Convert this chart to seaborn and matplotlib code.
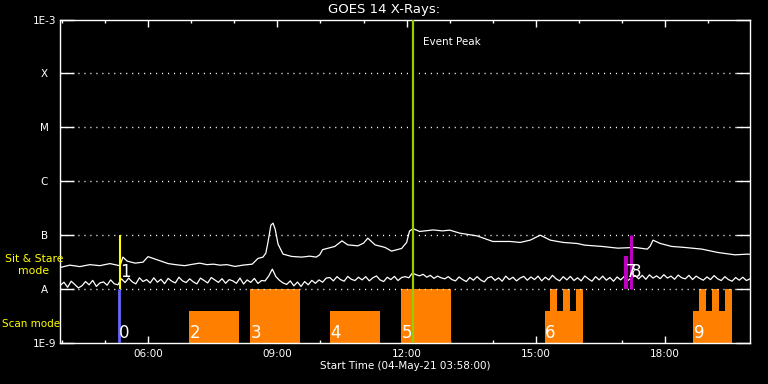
import numpy as np
import pandas as pd
import matplotlib
matplotlib.use("Agg")
import matplotlib.pyplot as plt
import matplotlib.dates as mdates
from matplotlib.ticker import NullLocator, FixedLocator, FixedFormatter
import seaborn as sns

DAY = "2021-05-04"
T_START = "03:58"
T_END = "19:58"
UNIT = 1e-8  # W/m^2

# Long channel (upper curve)
long_times = ["03:58", "04:11", "04:25", "04:39", "04:53", "05:07", "05:17", "05:21", "05:25", "05:31",
              "05:42", "05:53", "06:00", "06:08", "06:17", "06:28", "06:40", "06:51", "07:03", "07:12",
              "07:22", "07:31", "07:40", "07:50", "08:01", "08:12", "08:25", "08:33", "08:40", "08:44",
              "08:47", "08:51", "08:54", "08:57", "09:01", "09:08", "09:20", "09:34", "09:45", "09:54",
              "09:59", "10:03", "10:20", "10:30", "10:38", "10:52", "11:00", "11:06", "11:16", "11:30",
              "11:39", "11:53", "12:00", "12:04", "12:09", "12:18", "12:37", "12:50", "13:00", "13:14",
              "13:38", "14:00", "14:24", "14:38", "14:52", "15:06", "15:20", "15:38", "15:57", "16:08",
              "16:32", "16:54", "17:18", "17:35", "17:39", "17:43", "17:53", "18:09", "18:27", "18:51",
              "19:13", "19:37", "19:55", "19:58"]
long_flux = [2.52, 2.78, 2.61, 2.84, 2.72, 2.97, 2.78, 2.70, 3.92, 3.30,
             3.03, 3.16, 4.00, 3.67, 3.34, 2.97, 2.82, 2.72, 2.90, 3.03,
             2.84, 2.90, 2.78, 2.84, 2.63, 2.78, 2.90, 3.70, 3.92, 4.64,
             7.42, 15.3, 16.7, 12.9, 6.81, 4.45, 4.03, 3.92, 4.08, 3.92,
             4.32, 5.39, 6.18, 7.84, 6.61, 6.34, 7.11, 8.80, 6.61, 5.92,
             5.06, 5.67, 7.33, 11.9, 13.2, 11.7, 12.5, 12.0, 12.4, 10.9,
             9.70, 7.64, 7.64, 7.33, 8.08, 10.0, 8.08, 7.33, 7.02, 6.53,
             6.18, 5.74, 5.92, 5.51, 6.25, 8.08, 7.02, 6.18, 5.92, 5.51,
             4.78, 4.32, 4.45, 4.40]

# Short channel (lower curve), 5-minute samples from 03:58
short_flux = [1.18, 1.34, 1.08, 1.40, 1.22, 1.05, 1.15, 1.38, 1.20, 1.45, 1.12, 1.30,
              1.36, 1.18, 1.48, 1.25, 1.20, 1.55, 1.32, 1.60, 1.36, 1.25, 1.62, 1.38,
              1.50, 1.30, 1.62, 1.34, 1.52, 1.26, 1.58, 1.40, 1.30, 1.66, 1.42, 1.32,
              1.55, 1.36, 1.25, 1.60, 1.44, 1.30, 1.64, 1.48, 1.33, 1.56, 1.28, 1.50,
              1.42, 1.28, 1.60, 1.24, 1.48, 1.33, 1.58, 1.27, 1.44, 1.42, 1.75, 2.35,
              1.70, 1.45, 1.30, 1.22, 1.42, 1.15, 1.35, 1.12, 1.38, 1.20, 1.45, 1.28,
              1.48, 1.34, 1.60, 1.64, 1.42, 1.70, 1.50, 1.40, 1.72, 1.52, 1.44, 1.66,
              1.48, 1.70, 1.42, 1.62, 1.75, 1.48, 1.38, 1.66, 1.50, 1.72, 1.44, 1.64,
              1.70, 1.62, 1.98, 1.85, 1.76, 1.88, 1.66, 1.80, 1.58, 1.74, 1.62, 1.55,
              1.70, 1.50, 1.42, 1.68, 1.50, 1.38, 1.64, 1.46, 1.70, 1.48, 1.36, 1.62,
              1.70, 1.45, 1.62, 1.40, 1.74, 1.50, 1.66, 1.42, 1.60, 1.72, 1.46, 1.68,
              1.50, 1.74, 1.42, 1.66, 1.48, 1.80, 1.55, 1.42, 1.70, 1.48, 1.72, 1.44,
              1.62, 1.42, 1.75, 1.55, 1.40, 1.70, 1.48, 1.74, 1.46, 1.64, 1.40, 1.68,
              1.48, 1.72, 1.44, 1.62, 1.78, 1.55, 1.80, 1.52, 1.84, 1.60, 1.76, 1.56,
              1.85, 1.60, 1.74, 1.52, 1.82, 1.62, 1.55, 1.80, 1.50, 1.74, 1.58, 1.46,
              1.68, 1.50, 1.78, 1.55, 1.44, 1.70, 1.50, 1.40, 1.64, 1.46, 1.66, 1.44,
              1.55]

# Scan-mode blocks
scan_labels = ["2", "3", "4", "5", "6", "9"]
scan_start = ["06:57", "08:22", "10:13", "11:52", "15:12", "18:39"]
scan_end = ["08:07", "09:32", "11:23", "13:02", "16:06", "19:33"]
scan_top = [4.0e-9, 1.0e-8, 4.0e-9, 1.0e-8, 4.0e-9, 4.0e-9]
tooth_start = ["15:20", "15:38", "15:56", "18:47", "19:05", "19:23"]
tooth_end = ["15:30", "15:48", "16:06", "18:57", "19:15", "19:33"]
tooth_top = [1.0e-8] * 6

# Sit & stare / other event markers
scan0_time, scan0_label = "05:20", "0"
stare_labels = ["1", "7", "8"]
stare_times = ["05:21", "17:05", "17:12"]
stare_top = [1.0e-7, 4.1e-8, 1.0e-7]
stare_colors = ["#ffff00", "#c000c0", "#c000c0"]
stare_widths = [1.5, 3.0, 2.2]
peak_time = "12:09"

y_ticks = [1e-9, 1e-8, 1e-7, 1e-6, 1e-5, 1e-4, 1e-3]
y_labels = ["1E-9", "A", "B", "C", "M", "X", "1E-3"]
grid_levels = [1e-8, 1e-7, 1e-6, 1e-5, 1e-4]

FLOOR = 1e-9
TOP = 1e-3


def ts(t):
    return pd.Timestamp(f"{DAY} {t}")


def num(t):
    return mdates.date2num(ts(t))


sns.set_theme(style="dark", rc={
    "axes.facecolor": "black", "figure.facecolor": "black",
    "axes.edgecolor": "white", "axes.labelcolor": "white",
    "xtick.color": "white", "ytick.color": "white", "text.color": "white",
    "axes.grid": False,
})
plt.rcParams["font.family"] = ["DejaVu Sans"]

fig = plt.figure(figsize=(7.68, 3.84), dpi=100)
fig.patch.set_facecolor("black")
ax = fig.add_axes([60.4 / 768, 41 / 384, 689.6 / 768, 323.5 / 384])
ax.set_facecolor("black")

long_df = pd.DataFrame({"time": [ts(t) for t in long_times],
                        "flux": np.array(long_flux) * UNIT})
short_df = pd.DataFrame({"time": pd.date_range(ts(T_START), periods=len(short_flux), freq="5min"),
                         "flux": np.array(short_flux) * UNIT})

sns.lineplot(data=long_df, x="time", y="flux", ax=ax, color="white", lw=0.9, zorder=3)
sns.lineplot(data=short_df, x="time", y="flux", ax=ax, color="white", lw=0.9, zorder=3)
ax.set_yscale("log")
ax.set_ylim(FLOOR, TOP)
ax.set_xlim(ts(T_START), ts(T_END))

# scan-mode bars
for s, e, top in zip(scan_start, scan_end, scan_top):
    ax.bar(num(s), top - FLOOR, width=num(e) - num(s), bottom=FLOOR, align="edge",
           color="#ff8000", linewidth=0, zorder=1)
for s, e, top in zip(tooth_start, tooth_end, tooth_top):
    ax.bar(num(s), top - FLOOR, width=num(e) - num(s), bottom=FLOOR, align="edge",
           color="#ff8000", linewidth=0, zorder=1)
for lab, s in zip(scan_labels, scan_start):
    ax.annotate(lab, xy=(ts(s), 0.031), xycoords=("data", "axes fraction"),
                xytext=(0.5, 0), textcoords="offset points",
                color="white", fontsize=12, ha="left", va="center", zorder=6)

# grid
ax.hlines(grid_levels, ts(T_START), ts(T_END), colors="white", lw=1.0,
          linestyles=[(0, (0.8, 3.5))], zorder=2)

# event lines
ax.vlines(ts(scan0_time), FLOOR, 1e-8, colors="#6666ff", lw=2.0, zorder=4)
ax.annotate(scan0_label, xy=(ts(scan0_time), 0.031), xycoords=("data", "axes fraction"),
            xytext=(0, 0), textcoords="offset points",
            color="white", fontsize=12, ha="left", va="center", zorder=6)
for lab, t, top, c, w in zip(stare_labels, stare_times, stare_top, stare_colors, stare_widths):
    ax.vlines(ts(t), 1e-8, top, colors=c, lw=w, zorder=4)
    ax.annotate(lab, xy=(ts(t), 0.219), xycoords=("data", "axes fraction"),
                xytext=(0, 0), textcoords="offset points",
                color="white", fontsize=12, ha="left", va="center", zorder=6)
ax.vlines(ts(peak_time), FLOOR, TOP, colors="#99cc00", lw=1.6, zorder=4)
ax.annotate("Event Peak", xy=(ts(peak_time), 0.930), xycoords=("data", "axes fraction"),
            xytext=(7, 0), textcoords="offset points",
            color="white", fontsize=7.5, ha="left", va="center")

# axes styling
for sp in ax.spines.values():
    sp.set_color("white")
    sp.set_linewidth(1.0)
    sp.set_visible(True)
ax.xaxis.set_major_locator(mdates.HourLocator(byhour=[6, 9, 12, 15, 18]))
ax.xaxis.set_minor_locator(mdates.HourLocator())
ax.xaxis.set_major_formatter(mdates.DateFormatter("%H:%M"))
ax.yaxis.set_major_locator(FixedLocator(y_ticks))
ax.yaxis.set_major_formatter(FixedFormatter(y_labels))
ax.yaxis.set_minor_locator(NullLocator())
ax.tick_params(axis="x", which="major", direction="in", length=4.7, width=1, top=True,
               bottom=True, labelsize=7.5, pad=4, colors="white")
ax.tick_params(axis="x", which="minor", direction="in", length=2.5, width=1, top=True,
               bottom=True, colors="white")
ax.tick_params(axis="y", which="major", direction="in", length=10, width=1, left=True,
               right=True, labelsize=7.5, pad=11.5, colors="white")
for lbl in ax.get_yticklabels():
    lbl.set_horizontalalignment("center")
ax.set_ylabel("")
ax.set_xlabel("Start Time (04-May-21 03:58:00)", fontsize=7.5, labelpad=2, color="white")

fig.text(0.5, 1 - 9 / 384, "GOES 14 X-Rays:", ha="center", va="center", fontsize=9.5, color="white")
fig.text(34 / 768, 1 - 259 / 384, "Sit & Stare", ha="center", va="center", fontsize=7.8, color="#ffff00")
fig.text(34 / 768, 1 - 271 / 384, "mode", ha="center", va="center", fontsize=7.8, color="#ffff00")
fig.text(2 / 768, 1 - 324 / 384, "Scan mode", ha="left", va="center", fontsize=7.5, color="#ffff00")

fig.savefig("out.png", dpi=100, facecolor="black")
